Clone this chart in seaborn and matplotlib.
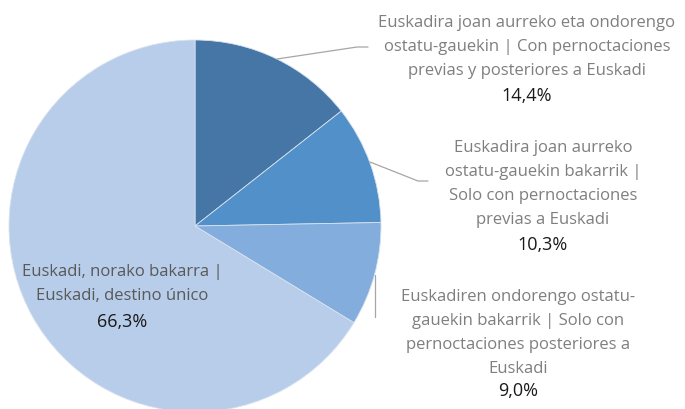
import matplotlib
matplotlib.use("Agg")
import matplotlib.pyplot as plt
import seaborn as sns

# datos
labels = [
    "Euskadira joan aurreko eta ondorengo\nostatu-gauekin | Con pernoctaciones\nprevias y posteriores a Euskadi",
    "Euskadira joan aurreko\nostatu-gauekin bakarrik |\nSolo con pernoctaciones\nprevias a Euskadi",
    "Euskadiren ondorengo ostatu-\ngauekin bakarrik | Solo con\npernoctaciones posteriores a\nEuskadi",
    "Euskadi, norako bakarra |\nEuskadi, destino único",
]
values = [14.4, 10.3, 9.0, 66.3]
colors = ["#4676a6", "#5190c8", "#83addc", "#b7cde9"]

sns.set_theme(style="white")
plt.rcParams['font.family'] = ['Open Sans', 'DejaVu Sans']

W, H = 685, 410
fig = plt.figure(figsize=(W / 100, H / 100), dpi=100)
ax = fig.add_axes([0, 0, 1, 1])

cx, cy, r = 195, H - 227, 186
ax.pie(values, colors=colors, startangle=90, counterclock=False,
       center=(cx, cy), radius=r, frame=True,
       wedgeprops=dict(linewidth=0.6, edgecolor='#d8e2f0'))
ax.set_xlim(0, W)
ax.set_ylim(0, H)
ax.set_aspect('equal')
ax.axis('off')

# lineas guia (px)
guides = [
    [(277, 60), (357, 48), (368, 48)],
    [(370, 163), (418, 182), (428, 182)],
    [(375, 276), (375, 318)],
]
for g in guides:
    ax.plot([p[0] for p in g], [H - p[1] for p in g], color='#a6a6a6', lw=0.9)

# etiquetas (centro x, y primera linea, y porcentaje, color)
spots = [
    (527, 15, 96, '#7f7f7f'),
    (543, 140, 245, '#7f7f7f'),
    (518, 289, 391, '#7f7f7f'),
    (122, 264, 322, '#595959'),
]
fs = 12
for lab, v, (x, y0, yp, c) in zip(labels, values, spots):
    ax.text(x, H - y0, lab, ha='center', va='top', fontsize=fs, color=c,
            linespacing=1.66)
    ax.text(x, H - yp, f"{v:.1f}%".replace('.', ','), ha='center', va='center',
            fontsize=fs + 1, color='#1a1a1a')

fig.savefig("out.png", dpi=100)
